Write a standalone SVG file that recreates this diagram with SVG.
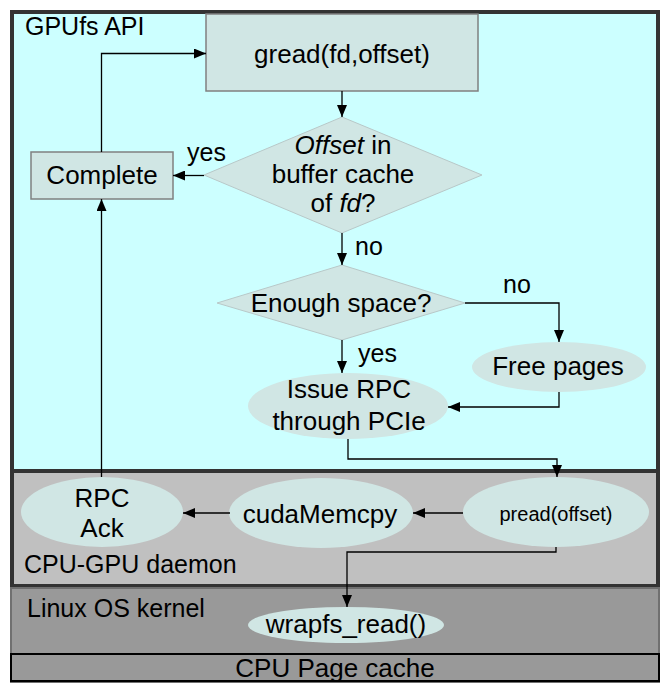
<svg xmlns="http://www.w3.org/2000/svg" width="669" height="693" viewBox="0 0 669 693">
<defs>
<marker id="ah" viewBox="0 0 12 10" refX="12" refY="5" markerWidth="12" markerHeight="10" markerUnits="userSpaceOnUse" orient="auto">
<path d="M0,0 L12,5 L0,10 Z" fill="#000"/>
</marker>
<style>
text{font-family:"Liberation Sans",Arial,sans-serif;fill:#000}
.t{font-size:26px;text-anchor:middle}
.l{font-size:25px}
.s{font-size:20px;text-anchor:middle}
.n{fill:#d0e6e4}
.rect{stroke:#808080;stroke-width:1.5}
.dia{stroke:#b8c8c8;stroke-width:1}
.c{fill:none;stroke:#000;stroke-width:1.3;marker-end:url(#ah)}
</style>
</defs>
<rect width="669" height="693" fill="#fff"/>
<g id="panels">
<rect x="12" y="12" width="646" height="459" fill="#ccffff" stroke="#333" stroke-width="4"/>
<rect x="12" y="471" width="646" height="115" fill="#c0c0c0" stroke="#333" stroke-width="4"/>
<rect x="11" y="588" width="648" height="94" fill="#999" stroke="#707070" stroke-width="2"/>
<text x="25" y="35" class="l">GPUfs API</text>
<text x="24" y="573" class="l">CPU-GPU daemon</text>
<text x="27" y="617" class="l">Linux OS kernel</text>
</g>
<g id="pagecache">
<rect x="11" y="654" width="648" height="27" fill="#999" stroke="#000" stroke-width="2"/>
<text x="335" y="677" class="t">CPU Page cache</text>
</g>
<g id="gread">
<rect x="206" y="14" width="272" height="77" class="n rect"/>
<text x="342" y="63" class="t">gread(fd,offset)</text>
</g>
<g id="complete">
<rect x="31" y="152" width="142" height="47" class="n rect"/>
<text x="102" y="184" class="t">Complete</text>
</g>
<g id="cachecheck">
<polygon points="204,175 342,117 482,175 342,233" class="n dia"/>
<text x="343" y="154" class="t"><tspan font-style="italic">Offset</tspan> in</text>
<text x="343" y="183" class="t">buffer cache</text>
<text x="343" y="212" class="t">of <tspan font-style="italic">fd</tspan>?</text>
</g>
<g id="space">
<polygon points="217,303 342,265 465,303 342,340" class="n dia"/>
<text x="341" y="312" class="t">Enough space?</text>
</g>
<g id="freepages">
<ellipse cx="559" cy="367" rx="87" ry="25" class="n"/>
<text x="558" y="375" class="t">Free pages</text>
</g>
<g id="issuerpc">
<ellipse cx="348" cy="406" rx="100" ry="33" class="n"/>
<text x="349" y="398" class="t">Issue RPC</text>
<text x="349" y="430" class="t">through PCIe</text>
</g>
<g id="pread">
<ellipse cx="556" cy="512" rx="93" ry="35" class="n"/>
<text x="556" y="521" class="s">pread(offset)</text>
</g>
<g id="cudamemcpy">
<ellipse cx="321" cy="513" rx="92" ry="35" class="n"/>
<text x="320" y="523" class="t">cudaMemcpy</text>
</g>
<g id="rpcack">
<ellipse cx="102" cy="512" rx="81" ry="35" class="n"/>
<text x="102" y="507" class="t">RPC</text>
<text x="102" y="537" class="t">Ack</text>
</g>
<g id="wrapfs">
<ellipse cx="346" cy="625" rx="98" ry="18" class="n"/>
<text x="346" y="633" class="t">wrapfs_read()</text>
</g>
<g id="connectors">
<path d="M101.5,152 V53.5 H206" class="c"/>
<path d="M342,91 V117" class="c"/>
<path d="M204,175.5 H173" class="c"/>
<path d="M342,233 V265" class="c"/>
<path d="M465,303 H559 V342" class="c"/>
<path d="M342,340 V373" class="c"/>
<path d="M559,392 V407 H448" class="c"/>
<path d="M348,439 V459 H557 V477" class="c"/>
<path d="M463,513 H413" class="c"/>
<path d="M230,513 H183" class="c"/>
<path d="M101.5,477 V199" class="c"/>
<path d="M556,547 V552 H347 V607" class="c"/>
<text x="187" y="161" class="l">yes</text>
<text x="355" y="255" class="l">no</text>
<text x="503" y="293" class="l">no</text>
<text x="358" y="362" class="l">yes</text>
</g>
</svg>
